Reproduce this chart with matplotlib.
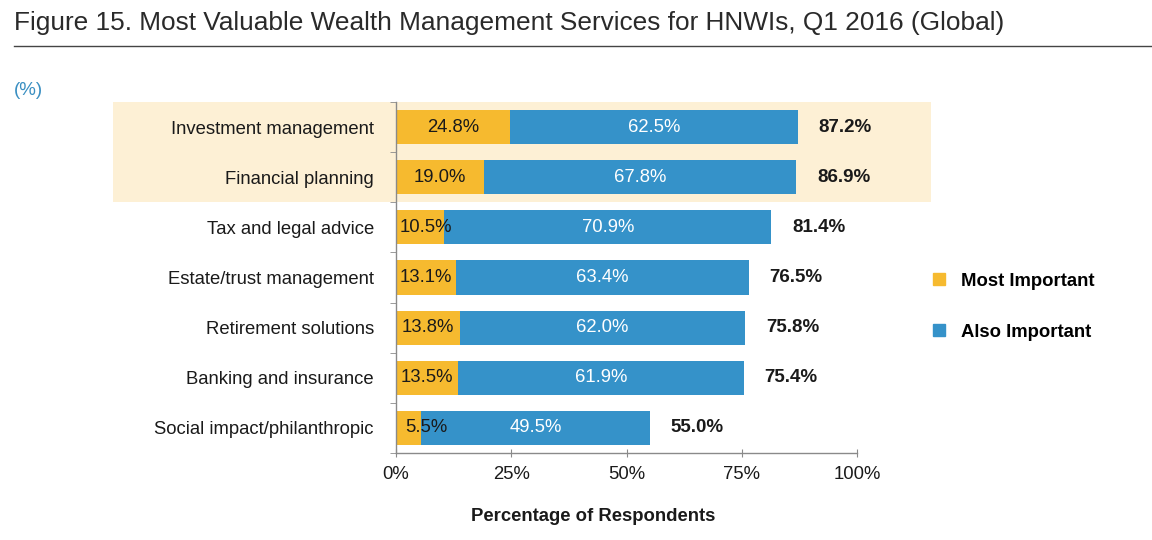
import numpy as np
import matplotlib.pyplot as plt
from matplotlib.lines import Line2D

plt.rcParams['font.family'] = ['Liberation Sans', 'DejaVu Sans']

categories = ["Investment management", "Financial planning", "Tax and legal advice",
              "Estate/trust management", "Retirement solutions", "Banking and insurance",
              "Social impact/philanthropic"]
most_important = [24.8, 19.0, 10.5, 13.1, 13.8, 13.5, 5.5]
also_important = [62.5, 67.8, 70.9, 63.4, 62.0, 61.9, 49.5]
totals = [87.2, 86.9, 81.4, 76.5, 75.8, 75.4, 55.0]
xticks = [0, 25, 50, 75, 100]
xtick_labels = ["0%", "25%", "50%", "75%", "100%"]
highlighted = 2  # first two rows shaded

GOLD = "#F6BA2F"
BLUE = "#3592C9"
SHADE = "#FDF0D5"
GRAY = "#8a8a8a"
TXT = "#1a1a1a"
FS = 13.3

fig = plt.figure(figsize=(11.52, 5.4), dpi=100)
ax = fig.add_axes([0.34375, 0.1611, 0.4002, 0.65])

y = np.arange(len(categories))
ax.barh(y, most_important, height=0.68, color=GOLD, zorder=2)
ax.barh(y, also_important, left=most_important, height=0.68, color=BLUE, zorder=2)

# shaded band behind the highlighted rows
ax.axhspan(-0.5, highlighted - 0.5, xmin=-0.614, xmax=1.16, color=SHADE,
           zorder=0, clip_on=False, lw=0)

for i in range(len(categories)):
    mi, ai, tot = most_important[i], also_important[i], totals[i]
    ax.text(max(mi / 2, 6.5), i, f"{mi:.1f}%", ha="center", va="center",
            fontsize=FS, color=TXT, zorder=3)
    ax.text(mi + ai / 2, i, f"{ai:.1f}%", ha="center", va="center",
            fontsize=FS, color="white", zorder=3)
    ax.annotate(f"{tot:.1f}%", (tot, i), xytext=(15, 0), textcoords="offset points",
                ha="left", va="center", fontsize=13.5, fontweight="bold", color=TXT)

ax.set_xlim(0, 100)
ax.set_ylim(len(categories) - 0.5, -0.5)
ax.set_yticks(y)
ax.set_yticklabels(categories, fontsize=FS, color=TXT)
ax.set_yticks(np.arange(-0.5, len(categories)), minor=True)
ax.tick_params(axis="y", which="major", length=0, pad=16)
ax.tick_params(axis="y", which="minor", length=4, color=GRAY, direction="out")
ax.set_xticks(xticks)
ax.set_xticklabels(xtick_labels, fontsize=FS, color=TXT)
ax.tick_params(axis="x", length=6, direction="inout", color=GRAY, pad=6)

for s in ["top", "right"]:
    ax.spines[s].set_visible(False)
for s in ["left", "bottom"]:
    ax.spines[s].set_color(GRAY)
    ax.spines[s].set_linewidth(1.0)
ax.patch.set_alpha(0)

ax.set_xlabel("Percentage of Respondents", fontsize=FS, fontweight="bold", color=TXT)
ax.xaxis.set_label_coords(0.427, -0.158)

handles = [Line2D([], [], marker="s", ls="", color=GOLD, markersize=9),
           Line2D([], [], marker="s", ls="", color=BLUE, markersize=9)]
fig.legend(handles, ["Most Important", "Also Important"], loc="center left",
           bbox_to_anchor=(0.785, 0.432), frameon=False, handletextpad=0.15,
           labelspacing=1.85, prop={"size": FS, "weight": "bold"})

fig.text(0.012, 0.957, "Figure 15. Most Valuable Wealth Management Services for HNWIs, Q1 2016 (Global)",
         fontsize=18.9, color="#2a2a2a", va="center", ha="left")
fig.add_artist(Line2D([0.012, 1.0], [0.915, 0.915], color="#444444", lw=1.0))
fig.text(0.012, 0.833, "(%)", fontsize=13.5, color="#3A8FC2", va="center", ha="left")

fig.savefig("out.png", dpi=100)
